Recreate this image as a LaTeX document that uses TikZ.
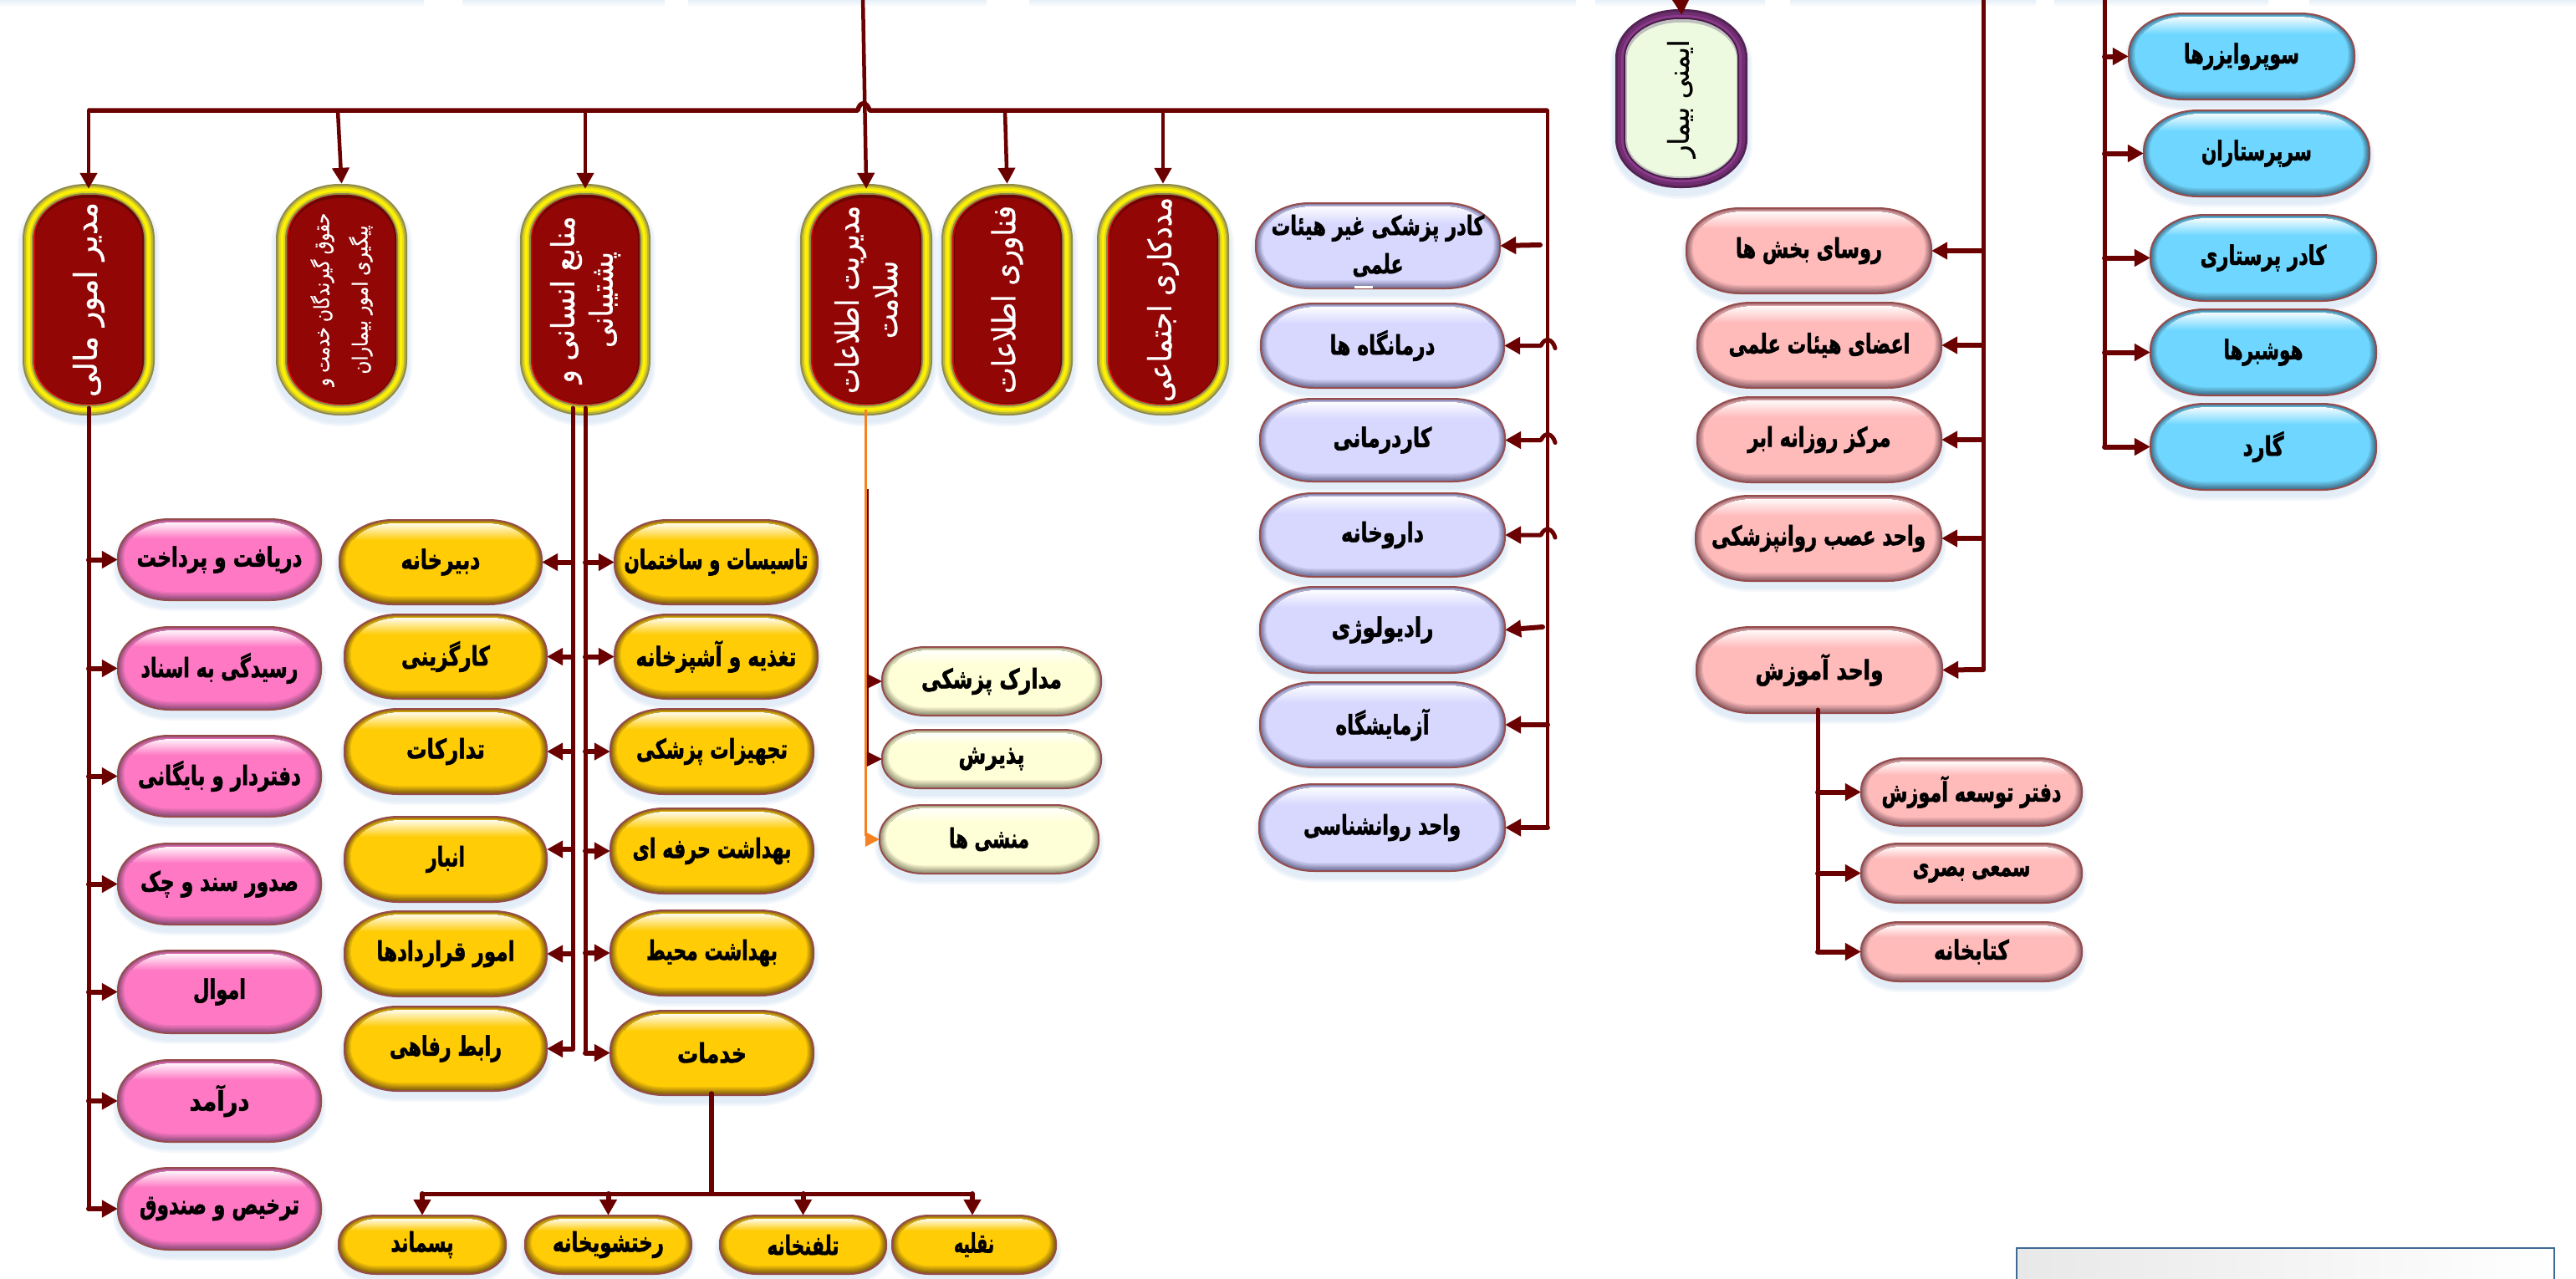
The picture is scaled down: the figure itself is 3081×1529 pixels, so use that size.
\documentclass[tikz,border=0pt]{standalone}
\usepackage{fontspec}
\usepackage{graphicx}
\usetikzlibrary{arrows.meta,calc}
\TeXXeTstate=1
\newfontfamily\arb[Script=Arabic,FakeBold=0.7]{DejaVu Sans}
\newfontfamily\arbb[Script=Arabic,FakeBold=1.8]{DejaVu Sans Bold}
\newcommand\fw[2]{\resizebox{#1pt}{\height}{#2}}
\definecolor{mar}{HTML}{6A0000}
\definecolor{shadowc}{HTML}{9DC3E6}
\definecolor{redin}{HTML}{920606}
\colorlet{pillbase}{white}\colorlet{pilledge}{gray}\colorlet{pillborder}{black}
\newcommand\pfam[3]{\colorlet{pillbase}{#1}\colorlet{pilledge}{#2}\colorlet{pillborder}{#3}}
\newcommand\pillfont{\arbb\fontsize{32}{46}\selectfont}
\newcommand\mkpath[6]{%
  \pgfmathsetmacro\qa{#1}\pgfmathsetmacro\qb{#2}\pgfmathsetmacro\qc{#3}\pgfmathsetmacro\qd{#4}%
  \pgfmathsetmacro\qrx{#5}\pgfmathsetmacro\qry{#6}%
  \pgfmathsetmacro\qax{\qa+\qrx}\pgfmathsetmacro\qbx{\qb-\qrx}%
  \pgfmathsetmacro\qay{\qc+\qry}\pgfmathsetmacro\qby{\qd-\qry}%
  \pgfmathsetmacro\qkx{\qrx*0.4477}\pgfmathsetmacro\qky{\qry*0.4477}%
  \pgfmathsetmacro\qcl{\qa+\qkx}\pgfmathsetmacro\qcr{\qb-\qkx}%
  \pgfmathsetmacro\qct{\qc+\qky}\pgfmathsetmacro\qcb{\qd-\qky}%
  \edef\thepillpath{(\qax,\qc) -- (\qbx,\qc) .. controls (\qcr,\qc) and (\qb,\qct) .. (\qb,\qay) -- (\qb,\qby) .. controls (\qb,\qcb) and (\qcr,\qd) .. (\qbx,\qd) -- (\qax,\qd) .. controls (\qcl,\qd) and (\qa,\qcb) .. (\qa,\qby) -- (\qa,\qay) .. controls (\qa,\qct) and (\qcl,\qc) .. (\qax,\qc) -- cycle}%
}
\newcommand\shadowlayers[6]{%
  \foreach \s in {6,4,2}{\mkpath{#1-\s}{#2+\s}{#3+7-\s}{#4+7+\s}{#5+\s}{#6+\s}\fill[shadowc,opacity=.10] \thepillpath;}%
}
\newcommand\pill[6]{% name x0 x1 y0 y1 text
  \pgfmathsetmacro\ph{#5-#4}\pgfmathsetmacro\pw{#3-#2}%
  \pgfmathsetmacro\prx{.63*\ph}\pgfmathsetmacro\pry{.47*\ph}%
  \shadowlayers{#2}{#3}{#4}{#5}{\prx}{\pry}%
  \mkpath{#2}{#3}{#4}{#5}{\prx}{\pry}\fill[pilledge] \thepillpath;
  \foreach \i in {1,...,8}{\pgfmathsetmacro\pp{\i*12.5}\colorlet{lay}{pillbase!\pp!pilledge}%
    \mkpath{#2+\i}{#3-\i}{#4+.6*\i}{#5-1.25*\i}{\prx-.9*\i}{\pry-.8*\i}\fill[lay] \thepillpath;}%
  \begin{scope}
    \mkpath{#2+7}{#3-7}{#4+4}{#5-10}{\prx-6}{\pry-4}\clip \thepillpath;
    \fill[top color=white!92!pillbase,bottom color=pillbase] (#2,{#4+4}) rectangle (#3,{#4+4+.2*\ph});
  \end{scope}
  \mkpath{#2}{#3}{#4}{#5}{\prx}{\pry}\draw[pillborder,line width=2pt] \thepillpath;
  \node[font=\pillfont,text=black,minimum width=\pw pt,minimum height=\ph pt,inner sep=0pt,align=center] (#1) at ({(#2+#3)/2},{(#4+#5)/2}) {#6};
}
\newcommand\ringlayers[7]{% x0 x1 y0 y1 rx ry list of inset/colour
  \foreach \d/\c in {#7}{\mkpath{#1+\d}{#2-\d}{#3+\d}{#4-\d}{#5-\d}{#6-\d}\fill[\c] \thepillpath;}%
}
\newcommand\redpill[6]{% name x0 x1 y0 y1 text
  \pgfmathsetmacro\ph{#5-#4}\pgfmathsetmacro\pw{#3-#2}%
  \shadowlayers{#2}{#3}{#4}{#5}{76}{66}%
  \ringlayers{#2}{#3}{#4}{#5}{76}{66}{0/{black!50!yellow},2/{black!30!yellow},4/{black!10!yellow},6/yellow,9/{black!15!yellow},11/{black!50!yellow},13/{red!70!redin}}%
  \mkpath{#2+15}{#3-13}{#4+13}{#5-14}{62}{52}\fill[redin!75!black] \thepillpath;
  \mkpath{#2+16}{#3-15}{#4+17}{#5-15}{60}{49}\fill[redin] \thepillpath;
  \node[font=\arb\fontsize{38}{46}\selectfont,text=white,rotate=90,minimum width=\ph pt,minimum height=\pw pt,inner sep=0pt,align=center] (#1) at ({(#2+#3)/2},{(#4+#5)/2}) {#6};
}
\tikzset{conn/.style={draw=mar,line width=5pt,line join=round,line cap=round},
  arr/.style={conn,line width=4.5pt,-{Triangle[length=19pt,width=20pt]}},
  harrow/.style={arr,line width=6pt}}
\newcommand\harr[3]{\draw[harrow] (#2.#3 -| #1) -- (#2.#3);}
\newcommand\hop[2]{\draw[harrow,line width=5pt] ($(#2.east -| #1)+(9,3)$) .. controls +(-3,-11) and +(5,-11) .. ($(#2.east -| #1)+(-8,0)$) -- (#2.east);}
\begin{document}
\begin{tikzpicture}[x=1pt,y=-1pt]
\useasboundingbox (0,0) rectangle (3081,1529);
\fill[white] (0,0) rectangle (3081,1529);
% top strips
\foreach \a/\b in {0/507,553/795,823/1180,1231/1885,1908/2111,2141/2435,2457/2713,2762/3081}
  \fill[top color=shadowc!25!white,bottom color=white] (\a,0) rectangle (\b,8);
% bottom right box
\definecolor{boxb}{HTML}{3F6A96}
\draw[draw=boxb,line width=2.5pt,left color=black!9,right color=white] (2412,1493) rectangle (3055,1545);
% red pills
\redpill{mali}{27}{185}{220}{497}{\fw{233}{\beginR مدیر امور مالی\endR}}
\redpill{hoghugh}{330}{487}{220}{497}{\fontsize{25}{33}\selectfont\fw{207}{\beginR حقوق گیرندگان خدمت و\endR}\\\fontsize{25}{33}\selectfont\fw{178}{\beginR پیگیری امور بیماران\endR}}
\redpill{manabe}{622}{778}{220}{497}{\fw{200}{\beginR منابع انسانی و\endR}\\\fw{115}{\beginR پشتیبانی\endR}}
\redpill{salamat}{957}{1115}{220}{497}{\fw{225}{\beginR مدیریت اطلاعات\endR}\\\fw{93}{\beginR سلامت\endR}}
\redpill{fanavari}{1126}{1283}{220}{497}{\fw{225}{\beginR فناوری اطلاعات\endR}}
\redpill{madad}{1312}{1470}{220}{497}{\fw{245}{\beginR مددکاری اجتماعی\endR}}
% patient safety
\definecolor{pua}{HTML}{8B3A8B}
\shadowlayers{1932}{2090}{11}{225}{76}{58}
\ringlayers{1932}{2090}{11}{225}{76}{58}{0/{pua!60!black},3/{pua!80!black},7/pua,10/{pua!50!black},12/{black!25}}
\definecolor{grn}{HTML}{EEFAE0}
\mkpath{1932+14}{2090-13}{11+16}{225-14}{63}{44}\fill[grn] \thepillpath;
\node[font=\arb\fontsize{34}{40}\selectfont,rotate=90,minimum width=214pt,minimum height=158pt,inner sep=0pt] (imeni) at (2011,118) {\fw{141}{\beginR ایمنی بیمار\endR}};
% pink
\definecolor{pkb}{HTML}{FF78C4}\definecolor{pke}{HTML}{8A4D78}
\pfam{pkb}{pke}{mar!70}
\pill{p1}{141}{384}{621}{718}{\fw{198}{\beginR دریافت و پرداخت\endR}}
\pill{p2}{141}{384}{750}{849}{\fw{188}{\beginR رسیدگی به اسناد\endR}}
\pill{p3}{141}{384}{880}{977}{\fw{195}{\beginR دفتردار و بایگانی\endR}}
\pill{p4}{141}{384}{1009}{1106}{\fw{189}{\beginR صدور سند و چک\endR}}
\pill{p5}{141}{384}{1137}{1236}{\fw{63}{\beginR اموال\endR}}
\pill{p6}{141}{384}{1268}{1366}{\fw{72}{\beginR درآمد\endR}}
\pill{p7}{141}{384}{1397}{1495}{\fw{191}{\beginR ترخیص و صندوق\endR}}
% orange
\definecolor{orb}{HTML}{FFCC05}\definecolor{ore}{HTML}{7E5A10}
\pfam{orb}{ore}{mar!70}
\pill{a1}{406}{648}{622}{723}{\fw{95}{\beginR دبیرخانه\endR}}
\pill{a2}{412}{654}{735}{836}{\fw{106}{\beginR کارگزینی\endR}}
\pill{a3}{412}{654}{848}{950}{\fw{94}{\beginR تدارکات\endR}}
\pill{a4}{412}{654}{977}{1079}{\fw{46}{\beginR انبار\endR}}
\pill{a5}{412}{654}{1090}{1192}{\fw{165}{\beginR امور قراردادها\endR}}
\pill{a6}{412}{654}{1204}{1305}{\fw{134}{\beginR رابط رفاهی\endR}}
\pill{b1}{735}{978}{622}{723}{\fw{220}{\beginR تاسیسات و ساختمان\endR}}
\pill{b2}{735}{978}{735}{836}{\fw{192}{\beginR تغذیه و آشپزخانه\endR}}
\pill{b3}{730}{973}{848}{950}{\fw{181}{\beginR تجهیزات پزشکی\endR}}
\pill{b4}{730}{973}{967}{1069}{\fw{190}{\beginR بهداشت حرفه ای\endR}}
\pill{b5}{730}{973}{1089}{1191}{\fw{157}{\beginR بهداشت محیط\endR}}
\pill{b6}{730}{973}{1209}{1310}{\fw{83}{\beginR خدمات\endR}}
\pill{c1}{405}{605}{1454}{1524}{\fw{75}{\beginR پسماند\endR}}
\pill{c2}{628}{827}{1454}{1524}{\fw{133}{\beginR رختشویخانه\endR}}
\pill{c3}{861}{1060}{1454}{1524}{\fw{86}{\beginR تلفنخانه\endR}}
\pill{c4}{1067}{1263}{1454}{1524}{\fw{48}{\beginR نقلیه\endR}}
% beige
\definecolor{beb}{HTML}{FFFFD7}\definecolor{bee}{HTML}{8E8C70}
\pfam{beb}{bee}{mar!70}
\pill{d1}{1055}{1317}{774}{856}{\fw{168}{\beginR مدارک پزشکی\endR}}
\pill{d2}{1055}{1317}{873}{943}{\fw{79}{\beginR پذیرش\endR}}
\pill{d3}{1052}{1314}{963}{1045}{\fw{96}{\beginR منشی ها\endR}}
% lavender
\definecolor{lab}{HTML}{D8D8FF}\definecolor{lae}{HTML}{6E6E96}
\pfam{lab}{lae}{mar!70}
\pill{l1}{1502}{1794}{243}{345}{\fw{255}{\beginR کادر پزشکی غیر هیئات\endR}\\\fw{61}{\beginR علمی\endR}}
\pill{l2}{1508}{1799}{363}{464}{\fw{126}{\beginR درمانگاه ها\endR}}
\pill{l3}{1507}{1800}{477}{576}{\fw{118}{\beginR کاردرمانی\endR}}
\pill{l4}{1507}{1800}{590}{690}{\fw{99}{\beginR داروخانه\endR}}
\pill{l5}{1507}{1800}{702}{805}{\fw{122}{\beginR رادیولوژی\endR}}
\pill{l6}{1507}{1800}{816}{918}{\fw{112}{\beginR آزمایشگاه\endR}}
\pill{l7}{1506}{1800}{938}{1042}{\fw{188}{\beginR واحد روانشناسی\endR}}
\fill[white] (1620,342) rectangle (1642,345);
% salmon
\definecolor{sab}{HTML}{FFBABA}\definecolor{sae}{HTML}{8A6068}
\pfam{sab}{sae}{mar!70}
\pill{s1}{2017}{2310}{249}{351}{\fw{175}{\beginR روسای بخش ها\endR}}
\pill{s2}{2030}{2322}{362}{464}{\fw{217}{\beginR اعضای هیئات علمی\endR}}
\pill{s3}{2030}{2322}{475}{577}{\fw{171}{\beginR مرکز روزانه ابر\endR}}
\pill{s4}{2028}{2322}{593}{695}{\fw{256}{\beginR واحد عصب روانپزشکی\endR}}
\pill{s5}{2029}{2323}{750}{853}{\fw{153}{\beginR واحد آموزش\endR}}
\pill{s6}{2226}{2490}{907}{988}{\fw{215}{\beginR دفتر توسعه آموزش\endR}}
\pill{s7}{2226}{2490}{1009}{1080}{\fw{141}{\beginR سمعی بصری\endR}}
\pill{s8}{2226}{2490}{1103}{1174}{\fw{90}{\beginR کتابخانه\endR}}
% blue
\definecolor{blb}{HTML}{6FD7FF}\definecolor{ble}{HTML}{3E6E88}
\pfam{blb}{ble}{mar!70}
\pill{u1}{2546}{2816}{16}{119}{\fw{138}{\beginR سوپروایزرها\endR}}
\pill{u2}{2564}{2834}{132}{235}{\fw{132}{\beginR سرپرستاران\endR}}
\pill{u3}{2572}{2842}{257}{360}{\fw{151}{\beginR کادر پرستاری\endR}}
\pill{u4}{2572}{2842}{370}{473}{\fw{95}{\beginR هوشبرها\endR}}
\pill{u5}{2572}{2842}{483}{586}{\fw{49}{\beginR گارد\endR}}
% named junctions
\coordinate (busL) at (105,132);
\coordinate (busR) at (1851,132);
\coordinate (topA) at (1032,-4);
\coordinate (topB) at (2010,-6);
\coordinate (finT) at (106,488);
\coordinate (finB) at (106,1446);
\coordinate (supT) at (685,488);
\coordinate (supB) at (685,1255);
\coordinate (resT) at (700,488);
\coordinate (resB) at (700,1259);
\coordinate (labB) at (1851,990);
\coordinate (medT) at (2372,-4);
\coordinate (medB) at (2372,801);
\coordinate (nurT) at (2517,-4);
\coordinate (nurB) at (2517,534);
\coordinate (eduT) at (2174,849);
\coordinate (eduB) at (2174,1139);
\coordinate (srvT) at (851,1308);
\coordinate (srvJ) at (851,1428);
\coordinate (srvL) at (505,1428);
\coordinate (srvR) at (1163,1428);
% bus with its hop over the trunk
\draw[conn,line width=5.5pt,line cap=butt] (busL) -- (1026,132) .. controls (1028,121) and (1037,121) .. (1040,132) -- (busR);
\draw[arr,shorten >=-6pt] (topA) -- (salamat.east);
\draw[arr,shorten >=-6pt] (mali.east |- busL) -- (mali.east);
\draw[arr] (404,132) -- (hoghugh.east);
\draw[arr,shorten >=-6pt] (manabe.east |- busL) -- (manabe.east);
\draw[arr] (1202,132) -- (fanavari.east);
\draw[arr] (madad.east |- busL) -- (madad.east);
\draw[arr,shorten >=-7pt] (topB) -- (imeni.east);
% lab column
\draw[conn,line width=4pt] (busR) -- (labB);
\draw[harrow] (1842,293) -- (l1.east);
\hop{labB}{l2}
\hop{labB}{l3}
\hop{labB}{l4}
\draw[harrow] (1845,750) -- (l5.east);
\harr{labB}{l6}{east}
\harr{labB}{l7}{east}
% finance
\draw[conn] (finT) -- (finB);
\foreach \n in {p1,p2,p3,p4,p5,p6,p7}{\harr{finT}{\n}{west}}
% support
\draw[conn] (supT) -- (supB);
\draw[conn] (resT) -- (resB);
\harr{supT}{a1}{east}\harr{supT}{a2}{east}\harr{supT}{a3}{east}
\draw[harrow] ($(a4.east -| supT)+(0,-12)$) -- ($(a4.east)+(0,-12)$);
\harr{supT}{a5}{east}\harr{supT}{a6}{east}
\foreach \n in {b1,b2,b3,b4,b5,b6}{\harr{resT}{\n}{west}}
% services
\draw[conn,line width=5.5pt] (srvT) -- (srvJ);
\draw[conn] (srvL) -- (srvR);
\draw[harrow] (srvL) -- (c1.north -| srvL);
\draw[harrow] (c2.north |- srvL) -- (c2.north);
\draw[harrow] (c3.north |- srvL) -- (c3.north);
\draw[harrow] (srvR) -- (c4.north -| srvR);
% health information
\definecolor{orl}{HTML}{F58220}
\draw[mar,line width=4pt] (1036.5,585) -- (1036.5,910);
\draw[orl,line width=2.5pt] (1035.5,490) -- (1035.5,1000);
\fill[mar] (d1.west) -- ++(-18,-9) -- ++(0,18) -- cycle;
\fill[mar] (d2.west) -- ++(-18,-9) -- ++(0,18) -- cycle;
\fill[orl] (d3.west) -- ++(-17,-9) -- ++(0,18) -- cycle;
% medical column
\draw[conn] (medT) -- (medB);
\draw[harrow] (medB) -- (s5.east);
\harr{medB}{s1}{east}\harr{medB}{s2}{east}\harr{medB}{s3}{east}\harr{medB}{s4}{east}
\draw[conn] (eduT) -- (eduB);
\harr{eduT}{s6}{west}\harr{eduT}{s7}{west}\harr{eduT}{s8}{west}
% nursing column
\draw[conn] (nurT) -- (nurB);
\foreach \n in {u1,u2,u3,u4,u5}{\harr{nurT}{\n}{west}}
\end{tikzpicture}
\end{document}
